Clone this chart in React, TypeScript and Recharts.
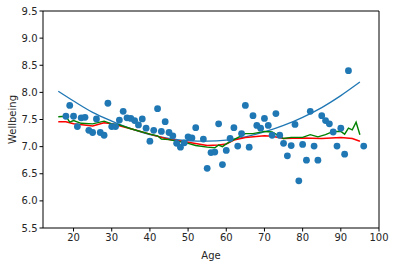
import React from 'react';
import { ComposedChart, Scatter, Line, XAxis, YAxis, ReferenceLine } from 'recharts';

const ages = [18, 19, 20, 21, 22, 23, 24, 25, 26, 27, 28, 29, 30, 31, 32, 33, 34, 35, 36, 37, 38, 39, 40, 41, 42, 43, 44, 45, 46, 47, 48, 49, 50, 51, 52, 54, 55, 56, 57, 58, 59, 60, 61, 62, 63, 64, 65, 66, 67, 68, 69, 70, 71, 72, 73, 74, 75, 76, 77, 78, 79, 80, 81, 82, 83, 84, 85, 86, 87, 88, 89, 90, 91, 92, 96];
const wellbeing = [7.56, 7.76, 7.56, 7.37, 7.53, 7.54, 7.3, 7.26, 7.51, 7.26, 7.21, 7.8, 7.37, 7.37, 7.49, 7.65, 7.53, 7.52, 7.48, 7.4, 7.51, 7.34, 7.1, 7.3, 7.7, 7.28, 7.46, 7.26, 7.2, 7.06, 6.99, 7.07, 7.18, 7.16, 7.35, 7.14, 6.6, 6.89, 6.9, 7.42, 6.67, 6.93, 7.15, 7.35, 7.01, 7.24, 7.76, 6.99, 7.57, 7.39, 7.34, 7.52, 7.39, 7.21, 7.61, 7.21, 7.06, 6.83, 7.02, 7.41, 6.37, 7.04, 6.75, 7.65, 7.01, 6.75, 7.57, 7.48, 7.42, 7.27, 7.01, 7.34, 6.86, 8.4, 7.01];

const fitAges = [16, 20, 25, 30, 35, 40, 45, 50, 55, 60, 65, 70, 75, 80, 85, 90, 95];
const fitValues = [8.02, 7.84, 7.63, 7.47, 7.33, 7.22, 7.15, 7.11, 7.1, 7.12, 7.18, 7.27, 7.39, 7.54, 7.72, 7.94, 8.19];

const redAges = [16, 18, 20, 25, 28, 30, 35, 40, 45, 50, 55, 58, 60, 62, 65, 70, 72, 75, 80, 85, 90, 93, 95];
const redValues = [7.46, 7.46, 7.42, 7.38, 7.44, 7.42, 7.33, 7.23, 7.13, 7.08, 7.02, 7.03, 7.05, 7.12, 7.17, 7.2, 7.19, 7.15, 7.16, 7.15, 7.17, 7.15, 7.1];

const greenAges = [16, 18, 19, 20, 22, 25, 28, 30, 32, 35, 40, 42, 43, 45, 50, 52, 55, 57, 58, 59, 60, 62, 65, 67, 70, 72, 75, 77, 80, 82, 84, 86, 88, 90, 91, 92, 93, 94, 95];
const greenValues = [7.55, 7.56, 7.45, 7.48, 7.43, 7.42, 7.47, 7.42, 7.4, 7.33, 7.23, 7.2, 7.14, 7.13, 7.06, 7.02, 6.99, 6.98, 7.03, 7.0, 7.05, 7.13, 7.24, 7.24, 7.28, 7.27, 7.15, 7.17, 7.17, 7.22, 7.18, 7.22, 7.28, 7.28, 7.23, 7.34, 7.31, 7.45, 7.22];

const xTicks = [20, 30, 40, 50, 60, 70, 80, 90, 100];
const yTicks = [5.5, 6.0, 6.5, 7.0, 7.5, 8.0, 8.5, 9.0, 9.5];

const points = ages.map((a, i) => ({ age: a, wb: wellbeing[i] }));
const fit = fitAges.map((a, i) => ({ age: a, v: fitValues[i] }));
const red = redAges.map((a, i) => ({ age: a, v: redValues[i] }));
const green = greenAges.map((a, i) => ({ age: a, v: greenValues[i] }));

const tickStyle = { fontSize: 10, fill: '#262626', fontFamily: 'DejaVu Sans' };

// rotated y label, kept inside the left margin
const YLabel = (props: any) => {
    const vb = props.viewBox;
    const cy = vb.y + vb.height / 2;
    return (
        <text x={12} y={cy} transform={`rotate(-90, 12, ${cy})`} textAnchor="middle" dominantBaseline="central"
            fontSize={10} fill="#262626" fontFamily="DejaVu Sans">Wellbeing</text>
    );
};

export default function App() {
    return (
        <div style={{ position: 'absolute', left: 0, top: 0, fontFamily: 'DejaVu Sans' }}>
            <ComposedChart width={395} height={266} margin={{ top: 11, right: 16, bottom: 0, left: 0 }}>
                <XAxis
                    type="number"
                    dataKey="age"
                    domain={[12, 100]}
                    ticks={xTicks}
                    allowDataOverflow
                    height={38}
                    stroke="#000"
                    tickSize={3.5}
                    tick={tickStyle}
                    label={{ value: 'Age', position: 'insideBottom', offset: 7, style: { fontSize: 10, fill: '#262626' } }}
                />
                <YAxis
                    type="number"
                    domain={[5.5, 9.5]}
                    ticks={yTicks}
                    width={43}
                    stroke="#000"
                    tickSize={3.5}
                    tick={tickStyle}
                    tickFormatter={(v: number) => v.toFixed(1)}
                    label={<YLabel />}
                />
                <Scatter data={points} dataKey="wb" fill="#1f77b4" isAnimationActive={false}
                    shape={(p: any) => <circle cx={p.cx} cy={p.cy} r={3.4} fill="#1f77b4" />} />
                <Line data={fit} dataKey="v" type="monotone" stroke="#1f77b4" strokeWidth={1.3} dot={false} isAnimationActive={false} />
                <Line data={red} dataKey="v" type="linear" stroke="red" strokeWidth={1.5} dot={false} isAnimationActive={false} />
                <Line data={green} dataKey="v" type="linear" stroke="green" strokeWidth={1.4} dot={false} isAnimationActive={false} />
                <ReferenceLine y={9.5} stroke="#000" strokeWidth={1} ifOverflow="visible" />
                <ReferenceLine x={100} stroke="#000" strokeWidth={1} ifOverflow="visible" />
            </ComposedChart>
        </div>
    );
}
